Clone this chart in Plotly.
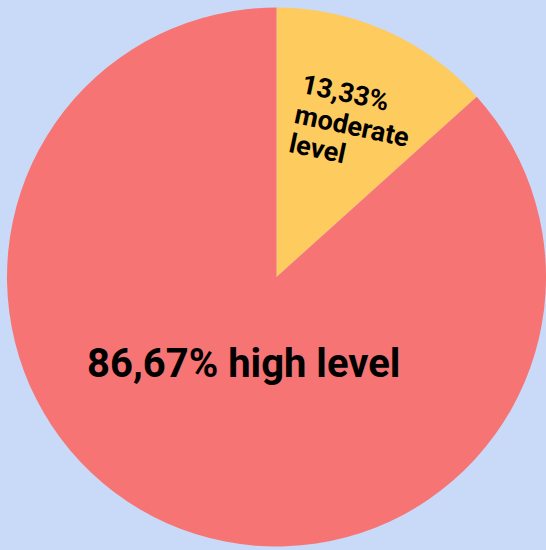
import plotly.graph_objects as go

labels = ["moderate level", "high level"]
values = [13.33, 86.67]
small_label_lines = ["13,33%", "moderate", "level"]
big_label = "86,67% high level"
colors = ["#fecb5e", "#f77474"]

W, H = 546, 550
fig = go.Figure(go.Pie(
    labels=labels, values=values, sort=False, direction="clockwise", rotation=0,
    marker=dict(colors=colors, line=dict(width=0)),
    textinfo="none", hoverinfo="label+percent", showlegend=False,
))

def px(x, y):
    return dict(x=x / W, y=1 - y / H, xref="paper", yref="paper")

fig.add_annotation(**px(240, 363), text="<b>" + big_label + "</b>", showarrow=False,
                   font=dict(family="Roboto", size=40, color="#000000"),
                   xanchor="center", yanchor="middle")

line_pos = [(343, 88), (349, 121), (315, 145)]
for txt, (x, y) in zip(small_label_lines, line_pos):
    fig.add_annotation(**px(x, y), text="<b>" + txt + "</b>", showarrow=False,
                       font=dict(family="Roboto", size=27, color="#000000"),
                       textangle=12, xanchor="center", yanchor="middle")

fig.update_layout(
    width=W, height=H, margin=dict(l=7, r=0, t=7, b=3),
    paper_bgcolor="#c9daf8", plot_bgcolor="#c9daf8",
)
fig.write_html("out.html")
